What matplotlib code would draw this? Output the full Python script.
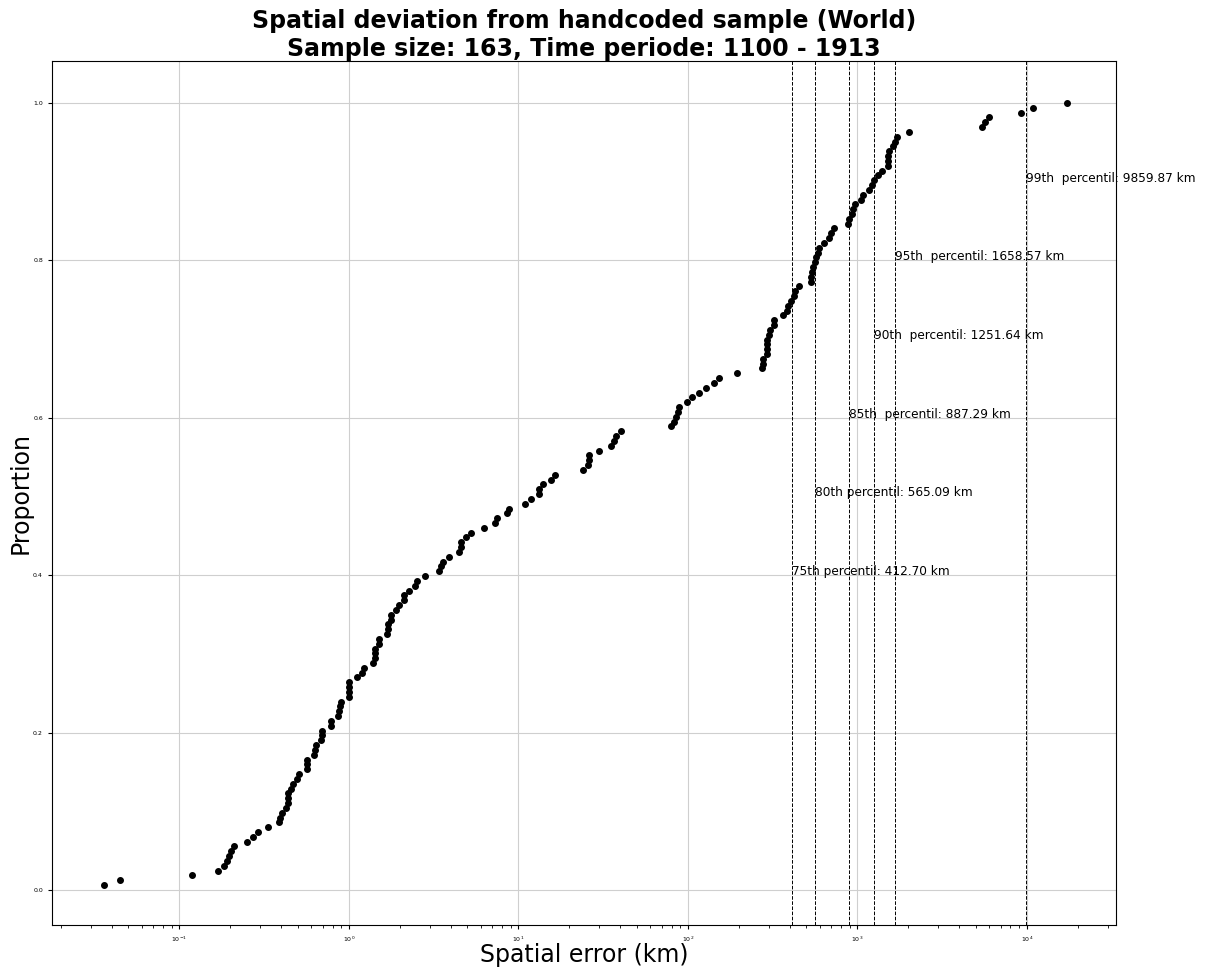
import numpy as np
import matplotlib
matplotlib.use('Agg')
import matplotlib.pyplot as plt

# Afstand (km) mellem geokodet og håndkodet sted, sorteret
spatial_error_km = [
    0.0359, 0.0446, 0.1185, 0.1687, 0.1830, 0.1906, 0.1959, 0.2012, 0.2097, 0.2502,
    0.2714, 0.2905, 0.3327, 0.3864, 0.3917, 0.4024, 0.4248, 0.4366, 0.4366, 0.4366,
    0.4548, 0.4673, 0.4934, 0.5070, 0.5652, 0.5652, 0.5652, 0.6216, 0.6301, 0.6388,
    0.6836, 0.6930, 0.6930, 0.7830, 0.7830, 0.8612, 0.8730, 0.8849, 0.8971, 1.0,
    1.0, 1.0, 1.0, 1.115, 1.193, 1.226, 1.385, 1.423, 1.423, 1.423,
    1.503, 1.503, 1.676, 1.699, 1.699, 1.769, 1.769, 1.894, 1.972, 2.111,
    2.111, 2.259, 2.452, 2.519, 2.808, 3.396, 3.490, 3.585, 3.890, 4.457,
    4.579, 4.579, 4.900, 5.246, 6.259, 7.268, 7.468, 8.555, 8.790, 10.92,
    11.85, 13.21, 13.21, 13.95, 15.55, 16.42, 24.02, 25.70, 26.06, 26.06,
    29.85, 35.13, 36.59, 37.60, 40.24, 79.38, 82.68, 84.96, 87.30, 88.49,
    98.65, 105.6, 116.1, 127.7, 142.3, 152.4, 194.6, 273.3, 277.0, 277.0,
    292.5, 292.5, 292.5, 292.5, 300.6, 304.7, 321.7, 321.7, 363.5, 383.8,
    389.0, 405.0, 420.4, 427.9, 451.8, 531.8, 531.8, 539.0, 546.4, 561.5,
    567.5, 584.8, 592.8, 634.6, 679.1, 697.8, 726.9, 884.0, 888.7, 928.3,
    941.0, 966.7, 1048.6, 1077.5, 1169.0, 1217.5, 1260.2, 1321.0, 1394.8, 1513.3,
    1513.3, 1513.3, 1534.0, 1619.7, 1663.0, 1710.0, 2012.7, 5427.0, 5652.0, 5968.0,
    9217.0, 10909.0, 17219.0,
]

percentiler = [75, 80, 85, 90, 95, 99]
percentil_km = [412.70, 565.09, 887.29, 1251.64, 1658.57, 9859.87]
tekst_y = [0.4, 0.5, 0.6, 0.7, 0.8, 0.9]

n = len(spatial_error_km)
proportion = np.arange(1, n + 1) / n

plt.figure(figsize=(12.09, 9.72), dpi=100)
plt.subplots_adjust(left=0.043, right=0.923, top=0.937, bottom=0.048)

plt.plot(spatial_error_km, proportion, 'o', color='black', markersize=4.0)

for p, km, ty in zip(percentiler, percentil_km, tekst_y):
    plt.axvline(km, color='black', linestyle='--', linewidth=0.7)
    mellemrum = ' ' if p < 85 else '  '
    plt.text(km, ty, f"{p}th{mellemrum}percentil: {km:.2f} km", fontsize=8.7)

plt.xscale('log')
plt.xlim(10 ** -1.752, 10 ** 4.525)
plt.ylim(-0.045, 1.053)
plt.grid(True, color='#cfcfcf', linewidth=0.8)
plt.tick_params(labelsize=4.5, length=3)

plt.title(f"Spatial deviation from handcoded sample (World)\nSample size: {n}, Time periode: 1100 - 1913",
          fontsize=17, fontweight='bold', pad=2)
plt.xlabel('Spatial error (km)', fontsize=17)
plt.ylabel('Proportion', fontsize=17)
plt.gca().xaxis.set_label_coords(0.5, -0.0205)
plt.gca().yaxis.set_label_coords(-0.018, 0.5)

plt.savefig('out.png', dpi=100)
